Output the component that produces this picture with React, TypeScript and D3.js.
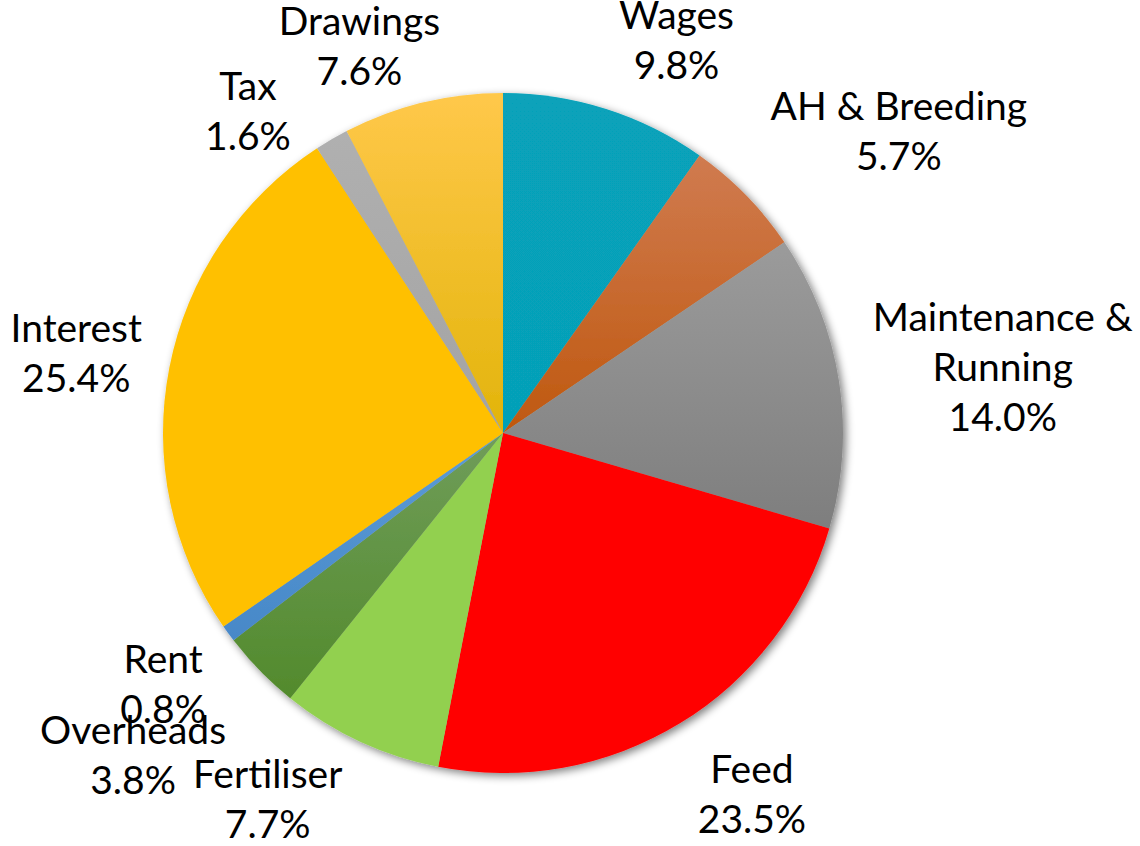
import React from "react";
import * as d3 from "d3";

const categories = ["Wages", "AH & Breeding", "Maintenance & Running", "Feed", "Fertiliser", "Overheads", "Rent", "Interest", "Tax", "Drawings"];
const values = [9.8, 5.7, 14.0, 23.5, 7.7, 3.8, 0.8, 25.4, 1.6, 7.6];
const labelLines = [["Wages"], ["AH & Breeding"], ["Maintenance &", "Running"], ["Feed"], ["Fertiliser"], ["Overheads"], ["Rent"], ["Interest"], ["Tax"], ["Drawings"]];

// gradient colours per slice (top, bottom)
const colorsTop = ["#07A2BA", "#D07B50", "#9B9B9B", "#FF0000", "#92D050", "#709D5A", "#5C9CD6", "#FFC000", "#B0B0B0", "#FFC84A"];
const colorsBottom = ["#06A0B8", "#BF580E", "#7E7E7E", "#FF0000", "#92D050", "#528A2C", "#4788C8", "#FFC000", "#A3A3A3", "#E2B40A"];

// label placement (angle nudge in degrees from slice mid-angle, distance from pie centre)
const labelNudge = [6.2, 7.2, 1.5, -3.2, 7.8, 3.3, -0.4, -0.6, -8.2, -6.7];
const labelDist = [429, 497, 504, 439, 436, 491, 423, 434, 410, 412];

const W = 1140;
const H = 846;
const CX = 503;
const CY = 433;
const R = 340;
const LINE = 50;
const FONT = 39;

export default function App() {
  const pie = d3.pie<number>().sort(null).value((d) => d).startAngle(0).endAngle(2 * Math.PI);
  const arcs = pie(values);
  const arc = d3.arc<d3.PieArcDatum<number>>().innerRadius(0).outerRadius(R);

  return (
    <svg width={W} height={H} style={{ position: "absolute", left: 0, top: 0, background: "#fff" }}
      fontFamily="Lato, 'Noto Sans', sans-serif">
      <defs>
        <filter id="shadow" x="-20%" y="-20%" width="140%" height="140%">
          <feGaussianBlur in="SourceAlpha" stdDeviation="4" />
          <feOffset dx="3" dy="3" result="b" />
          <feComponentTransfer>
            <feFuncA type="linear" slope="0.5" />
          </feComponentTransfer>
          <feMerge>
            <feMergeNode />
            <feMergeNode in="SourceGraphic" />
          </feMerge>
        </filter>
        {arcs.map((a, i) => (
          <linearGradient key={i} id={`g${i}`} x1="0" y1="0" x2="0" y2="1">
            <stop offset="0" stopColor={colorsTop[i]} />
            <stop offset="1" stopColor={colorsBottom[i]} />
          </linearGradient>
        ))}
      </defs>
      <g transform={`translate(${CX},${CY})`}>
        <g filter="url(#shadow)">
          {arcs.map((a, i) => (
            <path key={categories[i]} d={arc(a) || ""} fill={`url(#g${i})`} />
          ))}
        </g>
        {arcs.map((a, i) => {
          const mid = (a.startAngle + a.endAngle) / 2 + (labelNudge[i] * Math.PI) / 180;
          const x = labelDist[i] * Math.sin(mid);
          const y = -labelDist[i] * Math.cos(mid);
          const lines = [...labelLines[i], `${values[i].toFixed(1)}%`];
          const n = lines.length;
          const first = y + 13 - ((n - 1) * LINE) / 2;
          return (
            <text key={`t${i}`} textAnchor="middle" fontSize={FONT} fill="#000">
              {lines.map((l, j) => (
                <tspan key={j} x={x} y={first + j * LINE}>{l}</tspan>
              ))}
            </text>
          );
        })}
      </g>
    </svg>
  );
}
